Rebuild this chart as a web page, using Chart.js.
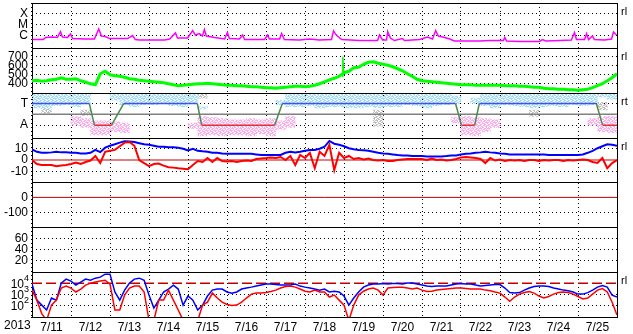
<!DOCTYPE html>
<html>
<head>
<meta charset="utf-8">
<script src="https://cdn.jsdelivr.net/npm/chart.js@4.4.1/dist/chart.umd.min.js"></script>
<style>
html,body{margin:0;padding:0;background:#fff;overflow:hidden;}
canvas{display:block;}
</style>
</head>
<body>
<canvas id="c" width="633" height="334"></canvas>
<script>
// ---------- categories / tick labels ----------
const dayLabels = ['7/11','7/12','7/13','7/14','7/15','7/16','7/17','7/18','7/19','7/20','7/21','7/22','7/23','7/24','7/25'];
const yearLabel = '2013';
const xrayTickVals = [1e-6, 1e-5, 1e-4];
const xrayTickLabels = ['C', 'M', 'X'];
const speedTickVals = [400, 500, 600, 700];
const sectorTickVals = [-1, 0, 1];
const sectorTickLabels = ['A', '', 'T'];
const imfTickVals = [-10, 0, 10];
const dstTickVals = [-100, 0];
const kpTickVals = [20, 40, 60];
const elecTickVals = [1e2, 1e3, 1e4];
const elecTickBase = '10';
const elecTickExp = ['2', '3', '4'];

// time axes (days since 7/11 00:00)
const grid3h = Array.from({length: 121}, (_, k) => k / 8);
const bins6h = Array.from({length: 60}, (_, i) => i / 4 + 0.125);
const fullSpan = [0, 15];

// ---------- X-ray flux (W/m2) ----------
const xrayT = [0.01,0.29,0.35,0.5,0.65,0.73,0.78,0.91,0.99,1.04,
  1.35,1.6,1.71,1.78,1.88,1.99,2.45,2.58,2.65,2.76,
  3.4,3.53,3.68,3.73,3.99,4.12,4.19,4.29,4.37,4.42,
  4.47,4.68,4.94,5.01,5.06,5.32,5.4,5.45,5.96,6.04,
  6.09,6.35,6.4,6.47,6.86,7.12,7.37,7.68,7.73,7.78,
  7.83,7.94,8.4,8.86,8.91,8.99,9.09,9.12,9.19,9.29,
  9.5,9.55,9.94,10.14,10.27,10.35,10.42,10.58,10.71,10.83,
  11.47,11.73,12.09,12.12,12.17,12.5,13.01,13.09,13.17,13.53,
  13.83,13.91,13.96,14.17,14.22,14.27,14.37,14.42,14.68,14.86,14.91,14.99];
const xrayV = [4.3e-7,4.3e-7,6.6e-7,7.3e-7,6.6e-7,2.3e-6,7.3e-7,6.6e-7,1.4e-6,5.3e-7,
  4.8e-7,4.8e-7,3.9e-6,9e-7,8.1e-7,5.3e-7,5.3e-7,1e-6,4.3e-7,3.9e-7,
  3.9e-7,4.8e-7,1.7e-6,5.9e-7,5.9e-7,2.8e-6,1.1e-6,1.5e-6,9e-7,3.5e-6,
  9e-7,6.6e-7,4.8e-7,1.9e-6,5.3e-7,4.8e-7,1.1e-6,4.3e-7,4.3e-7,1.1e-6,
  4.8e-7,4.8e-7,1.5e-6,4.3e-7,3.9e-7,4.8e-7,3.9e-7,4.3e-7,2.6e-6,1.4e-6,
  9e-7,4.3e-7,3.5e-7,3.5e-7,1.1e-6,3.9e-7,3.9e-7,2.3e-6,5.9e-7,3.5e-7,
  5.3e-7,3.5e-7,4.3e-7,7.3e-7,4.8e-7,2.8e-6,9e-7,6.6e-7,4.8e-7,3.2e-7,
  3.2e-7,3.5e-7,3.5e-7,6.6e-7,3.2e-7,2.9e-7,2.9e-7,4.3e-7,3.2e-7,3.5e-7,
  3.9e-7,1.9e-6,4.3e-7,4.3e-7,1.5e-6,4.3e-7,9e-7,4.3e-7,3.9e-7,4.8e-7,2.1e-6,1.1e-6];

// ---------- solar wind speed (km/s), 3-hourly ----------
const speedV = [433,439,428,433,444,450,467,450,450,456,
  433,417,400,389,511,539,500,489,483,472,
  456,450,439,433,428,422,417,411,400,389,
  378,383,389,394,400,400,406,400,394,389,
  383,383,378,378,372,367,367,361,356,356,
  350,356,361,367,372,372,367,372,383,400,
  422,444,461,483,522,539,578,583,617,639,
  644,628,617,606,589,567,544,511,483,450,
  433,428,422,417,411,406,400,394,389,389,
  389,383,383,383,383,383,383,378,378,378,
  372,372,367,361,361,350,344,344,339,339,
  333,333,328,333,339,356,378,400,433,467,511];
const speedSpikeT = [7.95, 7.97, 7.99];
const speedSpikeV = [483, 700, 522];

// ---------- IMF sector (T = +1, A = -1) ----------
const sectorT = [0,1.47,1.6,2.04,2.35,4.24,4.35,6.22,6.42,10.86,11.01,11.35,11.47,14.47,14.63,15];
const sectorV = [1,1,-1,-1,1,1,-1,-1,1,1,-1,-1,1,1,-1,-1];
const sectorZero = [0, 0];
const towardHi = [2.0,2.0,2.0,1.9,2.0,2.0,null,null,2.0,2.0,
  2.0,2.0,2.0,2.0,2.0,2.0,2.0,0.7,null,null,
  null,null,null,null,null,1.3,2.0,2.0,2.0,2.0,
  2.0,2.0,2.0,2.0,2.0,2.0,2.0,2.0,2.0,2.0,
  2.0,2.0,2.0,1.7,null,1.5,2.0,2.0,2.0,2.0,
  2.0,2.0,2.0,2.0,2.0,2.0,2.0,1.9,2.0,2.0];
const towardLo = [0.6,0.5,0.8,0.9,0.7,1.0,null,null,1.3,0.9,
  0.7,0.9,0.9,1.0,0.8,0.7,1.0,0.5,null,null,
  null,null,null,null,null,0.9,0.7,0.7,0.8,0.6,
  0.7,0.7,0.6,0.6,0.7,0.6,0.7,0.7,0.9,0.8,
  0.6,0.8,0.9,1.0,null,1.0,0.8,0.6,0.9,0.8,
  0.7,0.6,0.7,0.8,0.7,0.9,0.8,0.9,1.6,1.4];
const awayHi = [null,null,null,null,-0.2,-0.4,-0.6,-0.6,-0.7,-0.8,
  null,null,null,null,null,null,-0.8,-0.2,-0.3,-0.4,
  -0.5,-0.5,-0.4,-0.5,-0.4,-0.6,-0.2,null,null,null,
  null,null,null,null,null,null,null,null,null,null,
  null,null,null,-0.3,-0.2,-0.3,-0.4,-0.5,null,null,
  null,null,null,null,null,null,null,-0.4,-0.2,-0.2];
const awayLo = [null,null,null,null,-1.0,-1.2,-1.9,-1.9,-1.6,-1.7,
  null,null,null,null,null,null,-1.3,-2.0,-1.9,-2.0,
  -1.9,-1.9,-2.0,-1.8,-2.0,-1.4,-1.2,null,null,null,
  null,null,null,null,null,null,null,null,null,null,
  null,null,null,-0.8,-1.9,-2.0,-1.6,-1.2,null,null,
  null,null,null,null,null,null,null,-1.0,-1.6,-1.7];
const mixedDays = [0.375,1.375,4.375,7.875,8.875,10.375,12.875,13.625,14.625];
const mixedHi = [1.3,0.4,1.9,2.0,0.4,2.0,0.4,1.7,1.1];
const mixedLo = [0.1,-0.1,1.5,1.6,-1.1,1.4,-0.2,0.8,0.4];

// ---------- IMF Bt / Bz (nT), 3-hourly ----------
const btV = [9.5,7.3,6.4,6.4,6.8,7.3,6.8,6.8,6.4,6.4,
  5.9,5.9,6.4,9,7,11,12.7,14,15.5,16.8,
  16.4,16,15,14,13.6,12.7,11.8,11.8,11.4,11.4,
  10.9,10,8.6,10,8.2,7.7,7.3,6.4,6.4,5.9,
  5.5,5.5,5.5,5.5,5.5,5.5,5,4.5,4.5,4.5,
  4.5,4.5,6.4,7.3,6.8,7.3,8.2,9,9,10,
  11.8,17,14.5,13.6,12.3,10.5,9.5,9,8.6,8.2,
  7.3,6.4,5.9,5.5,5,4.5,4.1,4.1,3.6,3.6,
  3.6,3.2,3.2,3.2,3.2,3.6,4.1,4.1,5,5.5,
  5.9,6.4,6.8,7.3,6.8,6.4,5.9,5.5,5,5,
  5,5,5,5,5,5,4.5,4.5,4.5,4.5,
  4.5,4.5,4.5,5,6.4,8.2,10.5,12.3,14,13.6,12.7];
const bzV = [0,-3.6,-4.5,-4.5,-4.5,-5.5,-5,-4.5,-3.6,-2.3,
  -3.6,-1.8,-0.5,3.6,-2.7,7.3,8.2,9,12.3,15.5,
  16,12.7,0,-2.7,-5.5,-3.6,-3.2,-5,-6.4,-6.8,
  -7.3,-7.7,-8.2,-4.5,-0.9,-1.8,1.8,-1.8,1.8,-0.9,
  -1.4,-0.9,-1.8,-0.9,-0.5,-0.9,0.9,1.4,1.8,2.3,
  1.8,2.7,0,3.6,-4.5,4.5,1.8,6.4,-7.3,7.3,
  3.6,13.6,-9,6.4,1.8,3.6,0.9,1.8,0.5,1.4,
  0,-0.5,0,-0.9,-0.9,0,0.5,0.9,0.9,0.9,
  0.9,0,1.4,0,0.5,-0.5,0,0.9,2.3,2.7,
  2.3,1.8,0.9,-2.7,1.8,-0.5,0.5,-0.9,0,-0.5,
  0,-0.9,0,0,-0.9,0,-0.5,0,0,-0.9,
  0,-0.5,0,0.5,0,-1.8,-2.7,1.8,-7.3,-2.7,0];
const imfZero = [0, 0];
const dstZero = [0, 0];

// ---------- electron flux, 3-hourly ----------
const elecBlue = [8.6e3,320,115,42,490,320,1.05e4,2.4e4,1.6e4,7e3,
  1.3e4,2.4e4,1.9e4,2.9e4,3.6e4,6.6e4,6.6e4,1.7e3,320,2.5e3,
  1.05e4,2.4e4,2.9e4,1.9e4,900,63,320,1.7e3,3.1e3,7e3,
  3.1e3,115,740,320,42,115,740,2.5e3,3.1e3,3.1e3,
  1.7e3,1.35e3,1.7e3,3.1e3,3.8e3,4.6e3,5.7e3,7e3,8.6e3,8.6e3,
  7.8e3,7e3,7e3,7e3,8.6e3,5.7e3,4.6e3,3.8e3,3.1e3,2.5e3,
  3.1e3,1.7e3,2e3,1.7e3,740,115,490,1.7e3,4.6e3,7e3,
  8.6e3,8.6e3,9.5e3,8.6e3,9.5e3,9.5e3,8.6e3,1.05e4,1.05e4,8.6e3,
  7e3,5.7e3,5.2e3,5.7e3,5.7e3,5.7e3,7e3,8.6e3,9.5e3,8.6e3,
  8.6e3,7e3,5.7e3,6.3e3,7e3,7.8e3,7.8e3,3.8e3,1.5e3,1.35e3,
  1.5e3,2.5e3,3.8e3,5.2e3,5.7e3,5.7e3,5.2e3,3.8e3,3.1e3,2.5e3,
  2.2e3,1.7e3,1.1e3,1.1e3,1.5e3,2.5e3,4.6e3,6.3e3,4.6e3,900,600];
const elecRed = [2.5e3,320,20,5,115,320,3.8e3,5.7e3,3.8e3,1.7e3,
  3.1e3,7e3,1.05e4,1.3e4,1.6e4,1.9e4,8.6e3,42,42,900,
  3.8e3,5.7e3,5.7e3,1.7e3,5,5,320,320,2.5e3,320,
  42,5,5,5,5,115,210,1.35e3,490,210,
  130,105,115,210,490,1.1e3,1.35e3,1.35e3,1.5e3,1.85e3,
  2.5e3,3.8e3,5.2e3,5.7e3,4.6e3,3.1e3,2e3,1.7e3,2.5e3,1.7e3,
  1.7e3,600,900,320,115,5,115,900,2e3,3.1e3,
  3.8e3,2.5e3,900,3.8e3,4.2e3,4.6e3,4.6e3,3.8e3,3.1e3,3.8e3,
  2.5e3,1.85e3,2e3,2.5e3,2.8e3,3.1e3,3.4e3,3.8e3,3.8e3,3.4e3,
  3.1e3,3.1e3,3.1e3,2.5e3,2.2e3,1.7e3,1.35e3,600,250,600,
  1.1e3,1.5e3,1.85e3,1.35e3,740,490,670,1.1e3,1.5e3,1.7e3,
  1.5e3,1.1e3,670,400,490,1.1e3,2.5e3,3.4e3,1.7e3,210,15];
const elecAlert = [1e4, 1e4];

// ---------- helpers ----------
const FONT = '"Liberation Sans", Arial, Helvetica, sans-serif';
const pts = (ts, vs) => ts.map((t, i) => ({x: t, y: vs[i]})).filter(p => p.y !== null);
const ranges = (ts, lo, hi) => ts.map((t, i) => (lo[i] === null ? null : {x: t, y: [lo[i], hi[i]]})).filter(Boolean);
const xTickVals = [];
for (let i = 0; i <= dayLabels.length; i++) { xTickVals.push(i); if (i < dayLabels.length) xTickVals.push(i + 0.5); }

// speckle texture (style only) for the scattered direction dots
const speckleRows = ['XX..XX.X', '.X.XX.X.', 'X.X..XXX', '..XXX..X', 'XX..XX..', 'X..XX.XX', '.XX..XX.', 'X.XX..X.'];
function speckle(color) {
  const c = document.createElement('canvas');
  c.width = 8; c.height = 8;
  const g = c.getContext('2d');
  g.fillStyle = color;
  speckleRows.forEach((row, y) => [...row].forEach((ch, x) => { if (ch === 'X') g.fillRect(x, y, 1, 1); }));
  return g.createPattern(c, 'repeat');
}

function panel(type, min, max, vals, labels, hidden, weight) {
  return {
    type, min, max, weight, position: 'left', stack: 'panels', stackWeight: 1, offset: false,
    afterBuildTicks: s => { s.ticks = vals.map(v => ({value: v})); },
    afterFit: s => { s.width = 32; s.paddingTop = 0; s.paddingBottom = 0; },
    grid: { drawTicks: false, lineWidth: 1,
      color: c => (c.tick && hidden.includes(c.tick.value)) ? 'rgba(0,0,0,0)' : '#000' },
    border: { display: true, color: '#000', width: 1, dash: [1, 3] },
    ticks: { autoSkip: false, padding: 4, color: '#000', font: {family: FONT, size: 12},
      callback: (v, i) => labels ? labels[i] : String(vals[i]) }
  };
}

const line = (label, yAxisID, data, color, width, order, extra) => Object.assign({
  type: 'line', label, yAxisID, xAxisID: 'x', data, borderColor: color, backgroundColor: color,
  borderWidth: width, pointRadius: 0, tension: 0, fill: false, order
}, extra || {});
const band = (label, data, color) => ({
  type: 'bar', label, yAxisID: 'ySec', xAxisID: 'x', data, backgroundColor: speckle(color),
  borderWidth: 0, grouped: false, categoryPercentage: 1, barPercentage: 1, order: 20
});

const rightTags = [['yX', 'rl'], ['ySW', 'rl'], ['ySec', 'rt'], ['yIMF', 'rl'], ['yE', 'rl']];
const panelIds = ['yX', 'ySW', 'ySec', 'yIMF', 'yDst', 'yKp', 'yE'];

const framePlugin = {
  id: 'frames',
  afterDraw(chart) {
    const {ctx, chartArea} = chart;
    ctx.save();
    ctx.strokeStyle = '#000';
    ctx.lineWidth = 1;
    ctx.setLineDash([]);
    ctx.beginPath();
    panelIds.forEach(id => {
      const y = Math.round(chart.scales[id].top) + 0.5;
      ctx.moveTo(chartArea.left, y); ctx.lineTo(chartArea.right + 1, y);
    });
    const xr = Math.round(chartArea.right) + 0.5;
    ctx.moveTo(xr, chartArea.top); ctx.lineTo(xr, chartArea.bottom);
    ctx.stroke();
    ctx.fillStyle = '#000';
    ctx.font = '11px ' + FONT;
    ctx.textAlign = 'left';
    ctx.textBaseline = 'middle';
    rightTags.forEach(([id, txt]) => ctx.fillText(txt, chartArea.right + 4, chart.scales[id].top + 9));
    ctx.font = '12px ' + FONT;
    ctx.fillText(yearLabel, 4, chartArea.bottom + 9);
    // electron-panel tick labels with superscript exponents
    const sE = chart.scales.yE;
    elecTickVals.forEach((v, i) => {
      const y = sE.getPixelForValue(v);
      ctx.font = '9px ' + FONT;
      const ew = ctx.measureText(elecTickExp[i]).width;
      const xr2 = sE.right - 3;
      ctx.textAlign = 'left';
      ctx.fillText(elecTickExp[i], xr2 - ew, y - 5);
      ctx.font = '12px ' + FONT;
      ctx.textAlign = 'right';
      ctx.fillText(elecTickBase, xr2 - ew, y + 1);
    });
    ctx.restore();
  }
};

const scales = {
  x: {
    type: 'linear', min: 0, max: 15, position: 'bottom', offset: false,
    afterBuildTicks: s => { s.ticks = xTickVals.map(v => ({value: v})); },
    afterFit: s => { s.height = 17; s.paddingLeft = 0; s.paddingRight = 0; },
    grid: { drawTicks: false, offset: false, lineWidth: 1,
      color: c => (c.tick && Number.isInteger(c.tick.value)) ? '#000' : 'rgba(0,0,0,0)' },
    border: { display: true, color: '#000', width: 1, dash: [1, 3] },
    ticks: { autoSkip: false, maxRotation: 0, minRotation: 0, padding: 3, color: '#000',
      font: {family: FONT, size: 12},
      callback: v => Number.isInteger(v) ? '' : dayLabels[Math.floor(v)] }
  },
  yX: panel('logarithmic', 7.6e-8, 8.9e-4, xrayTickVals, xrayTickLabels, [], 7),
  ySW: panel('linear', 300, 800, speedTickVals, null, [], 6),
  ySec: panel('linear', -2.15, 2.0, sectorTickVals, sectorTickLabels, [0], 5),
  yIMF: panel('linear', -20, 20, imfTickVals, null, [0], 4),
  yDst: panel('linear', -200, 100, dstTickVals, null, [0], 3),
  yKp: panel('linear', 0, 80, kpTickVals, null, [], 2),
  yE: panel('logarithmic', 10, 1e5, elecTickVals, ['', '', ''], [1e4], 1)
};

new Chart(document.getElementById('c'), {
  type: 'line',
  data: {
    datasets: [
      line('X-ray', 'yX', pts(xrayT, xrayV), '#ff00ff', 1.5, 1),
      line('Speed', 'ySW', pts(grid3h, speedV), '#00ff00', 3, 1),
      line('Speed spike', 'ySW', pts(speedSpikeT, speedSpikeV), '#00ff00', 1.5, 1),
      line('Sector', 'ySec', pts(sectorT, sectorV), '#4050e8', 1.5, 1, {
        segment: { borderColor: c => c.p0.parsed.y !== c.p1.parsed.y ? '#4a8a4a' : (c.p0.parsed.y > 0 ? '#4050e8' : '#e03030') }
      }),
      line('Sector mid', 'ySec', pts(fullSpan, sectorZero), '#808080', 1.5, 5),
      band('Toward', ranges(bins6h, towardLo, towardHi), '#9cdcff'),
      band('Away', ranges(bins6h, awayLo, awayHi), '#ffa8ec'),
      band('Mixed', ranges(mixedDays, mixedLo, mixedHi), '#c0c0c0'),
      line('Bt', 'yIMF', pts(grid3h, btV), '#0000ff', 2, 2),
      line('Bz', 'yIMF', pts(grid3h, bzV), '#ff0000', 2, 1),
      line('IMF zero', 'yIMF', pts(fullSpan, imfZero), '#c00000', 1, 5),
      line('Dst zero', 'yDst', pts(fullSpan, dstZero), '#c00000', 1, 5),
      line('e blue', 'yE', pts(grid3h, elecBlue), '#0000ff', 1.5, 2),
      line('e red', 'yE', pts(grid3h, elecRed), '#ff0000', 1.5, 1),
      line('e alert', 'yE', pts(fullSpan, elecAlert), '#c00000', 1.5, 5, {borderDash: [10, 4]})
    ]
  },
  options: {
    responsive: false, animation: false, devicePixelRatio: 1, events: [],
    layout: { padding: {left: 0, right: 16, top: 3, bottom: 0} },
    plugins: { legend: {display: false}, tooltip: {enabled: false}, title: {display: false} },
    scales
  },
  plugins: [framePlugin]
});
</script>
</body>
</html>
